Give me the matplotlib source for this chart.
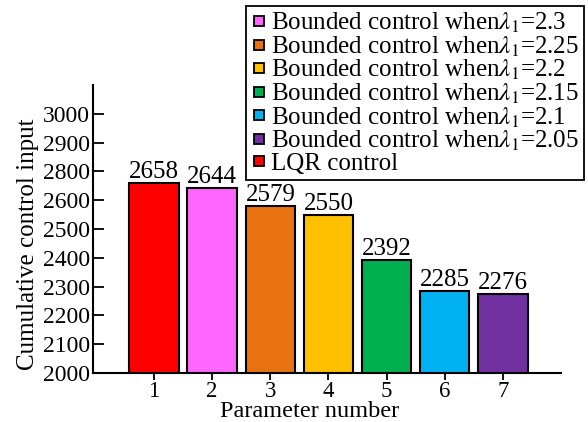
import matplotlib
matplotlib.use("Agg")
import matplotlib.pyplot as plt
from matplotlib.lines import Line2D

plt.rcParams["font.family"] = ["Liberation Serif", "DejaVu Serif"]
plt.rcParams["mathtext.fontset"] = "stix"

# data
params = [1, 2, 3, 4, 5, 6, 7]
values = [2658, 2644, 2579, 2550, 2392, 2285, 2276]
bar_colors = ["#FF0000", "#FF66FF", "#E8720F", "#FFC000", "#00B050", "#00B0F0", "#7030A0"]

# y ticks as printed in the original (label "2700" is skipped there)
ytick_pos = [2000, 2100, 2200, 2300, 2400, 2500, 2600, 2700, 2800, 2900]
ytick_labels = ["2000", "2100", "2200", "2300", "2400", "2500", "2600", "2800", "2900", "3000"]

legend_labels = [
    r"Bounded control when$\lambda_1$=2.3",
    r"Bounded control when$\lambda_1$=2.25",
    r"Bounded control when$\lambda_1$=2.2",
    r"Bounded control when$\lambda_1$=2.15",
    r"Bounded control when$\lambda_1$=2.1",
    r"Bounded control when$\lambda_1$=2.05",
    "LQR control",
]
legend_colors = ["#FF66FF", "#E8720F", "#FFC000", "#00B050", "#00B0F0", "#7030A0", "#FF0000"]

fig = plt.figure(figsize=(5.88, 4.22), dpi=100)
ax = fig.add_axes([93 / 588, 49 / 422, 468 / 588, 288 / 422])

bars = ax.bar(params, values, width=0.85, color=bar_colors, edgecolor="black", linewidth=1.5)
ax.bar_label(bars, labels=[str(v) for v in values], padding=0, fontsize=18)

ax.set_xlim(-0.05, 8.0)
ax.set_ylim(2000, 3000)
ax.set_xticks(params)
ax.set_yticks(ytick_pos)
ax.set_yticklabels(ytick_labels)

for side in ["top", "right"]:
    ax.spines[side].set_visible(False)
for side in ["left", "bottom"]:
    ax.spines[side].set_linewidth(1.5)

ax.tick_params(axis="x", direction="out", length=5, width=1.3, labelsize=16.5, pad=1)
ax.tick_params(axis="y", direction="in", length=8, width=1.3, labelsize=17, pad=2)

ax.set_xlabel("Parameter number", fontsize=17.5, va="top")
ax.xaxis.set_label_coords(0.462, -0.096)
ax.set_ylabel("Cumulative control input", fontsize=18)
ax.yaxis.set_label_coords(-0.115, 0.448)

handles = [
    Line2D([], [], linestyle="none", marker="s", markersize=7,
           markerfacecolor=c, markeredgecolor="black", markeredgewidth=1.3)
    for c in legend_colors
]
leg = ax.legend(handles, legend_labels, loc="upper right",
                bbox_to_anchor=(584 / 588, 416 / 422), bbox_transform=fig.transFigure,
                fontsize=18, frameon=True, fancybox=False, framealpha=1,
                borderpad=0.2, labelspacing=-0.03, handlelength=0.6,
                handletextpad=0.2, borderaxespad=0)
leg.get_frame().set_edgecolor("black")
leg.get_frame().set_linewidth(1.3)

fig.savefig("out.png", dpi=100)
